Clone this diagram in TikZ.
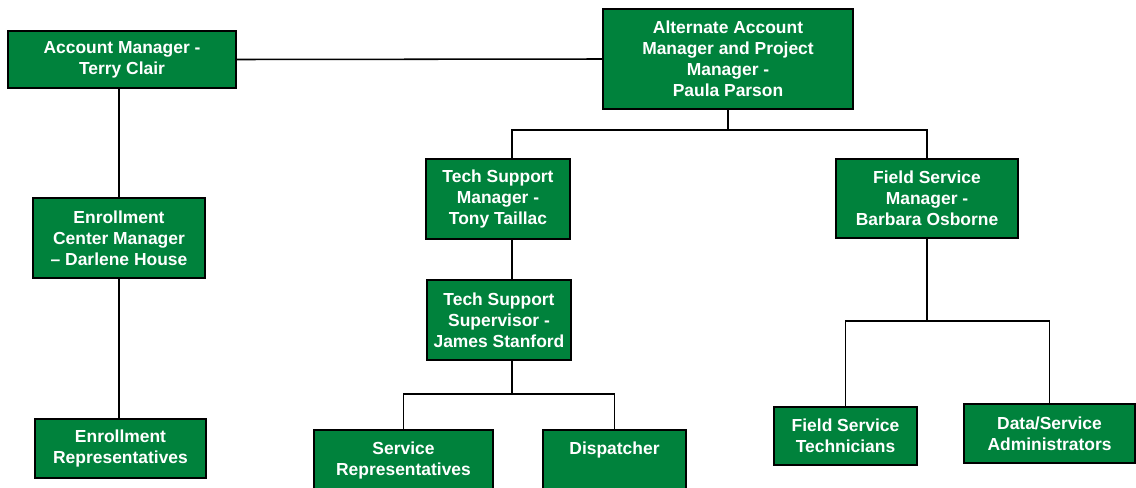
\documentclass[tikz,border=0pt]{standalone}
\usepackage{fontspec}
\setmainfont{Liberation Sans}
\definecolor{orggreen}{RGB}{0,130,60}

\begin{document}
\begin{tikzpicture}[x=0.025cm,y=-0.025cm]
\tikzstyle{post}=[draw=black,line width=1.3pt,fill=orggreen,text=white,align=center,inner sep=0pt,font=\fontsize{12.4}{15}\selectfont\bfseries]
\tikzstyle{link}=[black,line width=1.1pt]
\useasboundingbox (0,0) rectangle (1136,487);
% top row
\node [post,minimum width=5.7cm,minimum height=1.43cm] (am) at (122,59.5) {Account Manager -\\Terry Clair};
\node [post,minimum width=6.25cm,minimum height=2.5cm] (alt) at (728,59) {Alternate Account\\Manager and Project\\Manager -\\Paula Parson};
% second row
\node [post,minimum width=4.3cm,minimum height=2cm] (enrmgr) at (119,238) {Enrollment\\Center Manager\\-- Darlene House};
\node [post,minimum width=3.6cm,minimum height=2cm] (techmgr) at (498,199) {Tech Support\\Manager -\\Tony Taillac};
\node [post,minimum width=4.55cm,minimum height=1.98cm] (fieldmgr) at (927,198.5) {Field Service\\Manager -\\Barbara Osborne};
\node [post,minimum width=3.6cm,minimum height=2cm] (techsup) at (499,320) {Tech Support\\Supervisor -\\James Stanford};
% bottom row
\node [post,minimum width=4.28cm,minimum height=1.48cm] (enrreps) at (120.5,448.5) {Enrollment\\Representatives};
\node [post,minimum width=4.48cm,minimum height=1.6cm] (servreps) at (403.5,462) {};
\node [text=white,align=center,font=\fontsize{12.4}{15}\selectfont\bfseries] (servtxt) at (403.5,460.5) {Service\\Representatives};
\node [post,minimum width=3.58cm,minimum height=1.6cm] (disp) at (614.5,462) {};
\node [text=white,font=\fontsize{12.4}{15}\selectfont\bfseries] (disptxt) at (614.5,450) {Dispatcher};
\node [post,minimum width=3.58cm,minimum height=1.45cm] (fstech) at (845.5,436) {Field Service\\Technicians};
\node [post,minimum width=4.28cm,minimum height=1.48cm] (dataadm) at (1049.5,433.5) {Data/Service\\Administrators};
% connectors
\coordinate (altfork) at (728,130);
\coordinate (techfork) at (512,394);
\coordinate (fieldfork) at (927,321);
\draw [link] (am.east) -- (alt.west);
\draw [link] (am.south -| enrmgr.north) -- (enrmgr.north);
\draw [link] (enrmgr.south) -- (enrreps.north -| enrmgr.south);
\draw [link] (alt.south) -- (altfork);
\draw [link] (altfork) -| (techmgr.north -| techfork);
\draw [link] (altfork) -| (fieldmgr.north);
\draw [link] (techmgr.south -| techfork) -- (techsup.north -| techfork);
\draw [link] (techsup.south -| techfork) -- (techfork);
\draw [link] (techfork) -| (servreps.north);
\draw [link] (techfork) -| (disp.north);
\draw [link] (fieldmgr.south) -- (fieldfork);
\draw [link] (fieldfork) -| (fstech.north);
\draw [link] (fieldfork) -| (dataadm.north);
\end{tikzpicture}
\end{document}
